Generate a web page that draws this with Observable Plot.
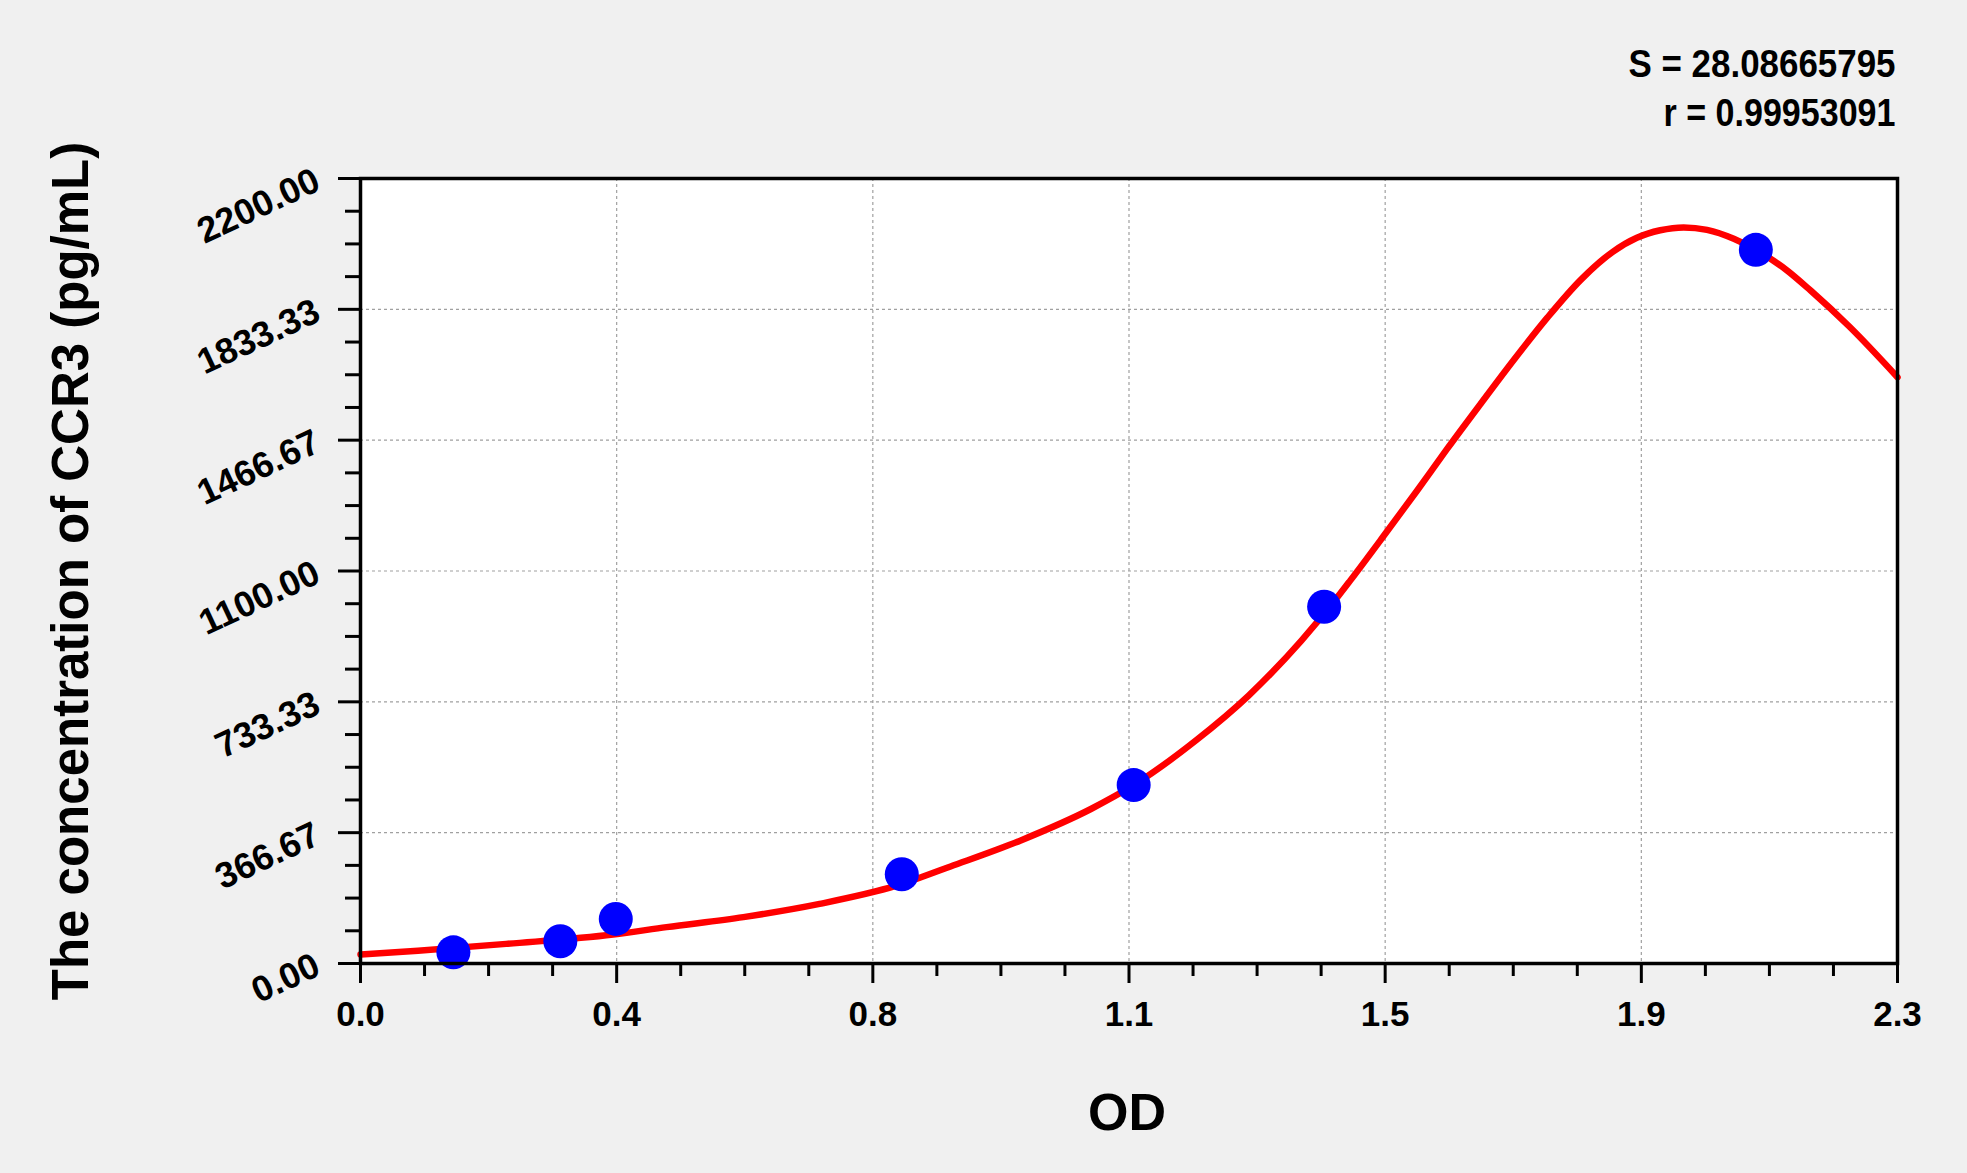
<!DOCTYPE html>
<html><head><meta charset="utf-8">
<script src="https://cdn.jsdelivr.net/npm/d3@7"></script>
<script src="https://cdn.jsdelivr.net/npm/@observablehq/plot@0.6"></script>
<style>
html,body{margin:0;padding:0;background:#f0f0f0;}
#chart svg{display:block}
</style></head><body><div id="chart"></div>
<script>
// Standard points (OD, concentration pg/mL)
const stdOD = [0.139, 0.299, 0.382, 0.810, 1.157, 1.442, 2.088];
const stdConc = [31.25, 62.5, 125, 250, 500, 1000, 2000];
// Fitted curve
const curveOD = [0, 0.086, 0.218, 0.378, 0.458, 0.573, 0.687, 0.802, 0.883, 0.988, 1.093, 1.157, 1.250, 1.329, 1.408, 1.460, 1.481, 1.531, 1.581, 1.626, 1.676, 1.726, 1.776, 1.826, 1.875, 1.910, 1.945, 1.980, 2.015, 2.055, 2.090, 2.135, 2.170, 2.229, 2.300];
const curveConc = [25, 36, 55, 81, 102, 130, 167, 218, 272, 345, 433, 500, 625, 751, 905, 1022, 1073, 1198, 1325, 1442, 1568, 1692, 1810, 1916, 1996, 2034, 2055, 2063, 2056, 2031, 1998, 1942, 1886, 1783, 1643];
// Axis ticks
const xTickValues = [0, 0.383333, 0.766667, 1.15, 1.533333, 1.916667, 2.3];
const xTickLabels = ["0.0", "0.4", "0.8", "1.1", "1.5", "1.9", "2.3"];
const yTickValues = [0, 366.67, 733.33, 1100, 1466.67, 1833.33, 2200];
const yTickLabels = ["0.00", "366.67", "733.33", "1100.00", "1466.67", "1833.33", "2200.00"];
const statLines = ["S = 28.08665795", "r = 0.99953091"];
const xTitle = "OD";
const yTitle = "The concentration of CCR3 (pg/mL)";

const points = stdOD.map((x, i) => ({x, y: stdConc[i]}));
const curve = curveOD.map((x, i) => ({x, y: curveConc[i]}));
const minor = vals => d3.pairs(vals).flatMap(([a, b]) => [1, 2, 3].map(k => a + (b - a) * k / 4));
const xMinor = minor(xTickValues);
const yMinor = minor(yTickValues);

const font = "'Liberation Sans', Arial, sans-serif";

const chart = Plot.plot({
  width: 1967,
  height: 1173,
  marginLeft: 360,
  marginRight: 70,
  marginTop: 178,
  marginBottom: 210,
  style: {background: "transparent", fontFamily: font, color: "#000", overflow: "visible"},
  x: {domain: [0, 2.3]},
  y: {domain: [0, 2200]},
  marks: [
    Plot.frame({fill: "white", stroke: null}),
    Plot.gridX(xTickValues.slice(1, -1), {stroke: "#a0a0a0", strokeOpacity: 1, strokeWidth: 1.2, strokeDasharray: "3,3"}),
    Plot.gridY(yTickValues.slice(1, -1), {stroke: "#a0a0a0", strokeOpacity: 1, strokeWidth: 1.2, strokeDasharray: "3,3"}),
    Plot.line(curve, {x: "x", y: "y", stroke: "#ff0000", strokeWidth: 6.5, curve: "monotone-x"}),
    Plot.dot(points, {x: "x", y: "y", r: 17, fill: "#0000ff", stroke: null}),
    Plot.frame({stroke: "#000", strokeWidth: 3.5}),
    Plot.axisX(xTickValues, {tickSize: 20, tickPadding: 18, strokeWidth: 3, fontSize: 35, fontWeight: "bold",
      tickFormat: d => xTickLabels[xTickValues.indexOf(d)], label: null}),
    Plot.axisX(xMinor, {tickSize: 13, strokeWidth: 3, text: null, label: null}),
    Plot.axisY(yTickValues, {tickSize: 22, tickPadding: 21, strokeWidth: 3, fontSize: 36, fontWeight: "bold",
      tickRotate: -25, textAnchor: "end", tickFormat: d => yTickLabels[yTickValues.indexOf(d)], label: null}),
    Plot.axisY(yMinor, {tickSize: 15, strokeWidth: 3, text: null, label: null}),
    Plot.text([statLines[0]], {frameAnchor: "top-right", textAnchor: "end", lineAnchor: "middle", dx: -2, dy: -114,
      fontSize: 39, fontWeight: "bold", fill: "#000"}),
    Plot.text([statLines[1]], {frameAnchor: "top-right", textAnchor: "end", lineAnchor: "middle", dx: -2, dy: -65,
      fontSize: 39, fontWeight: "bold", fill: "#000"}),
    Plot.text([xTitle], {frameAnchor: "bottom", textAnchor: "middle", lineAnchor: "middle", dx: -2, dy: 150,
      fontSize: 52, fontWeight: "bold", fill: "#000"}),
    Plot.text([yTitle], {frameAnchor: "left", textAnchor: "middle", lineAnchor: "middle", rotate: -90, dx: -289,
      fontSize: 51, fontWeight: "bold", fill: "#000"})
  ]
});
// The statistics text in the reference is drawn slightly condensed
const statWidths = {[statLines[0]]: 267, [statLines[1]]: 232};
d3.select(chart).selectAll("text").each(function () {
  const w = statWidths[this.textContent];
  if (w) d3.select(this).attr("textLength", w).attr("lengthAdjust", "spacingAndGlyphs");
});
document.getElementById("chart").appendChild(chart);
</script>
</body></html>
